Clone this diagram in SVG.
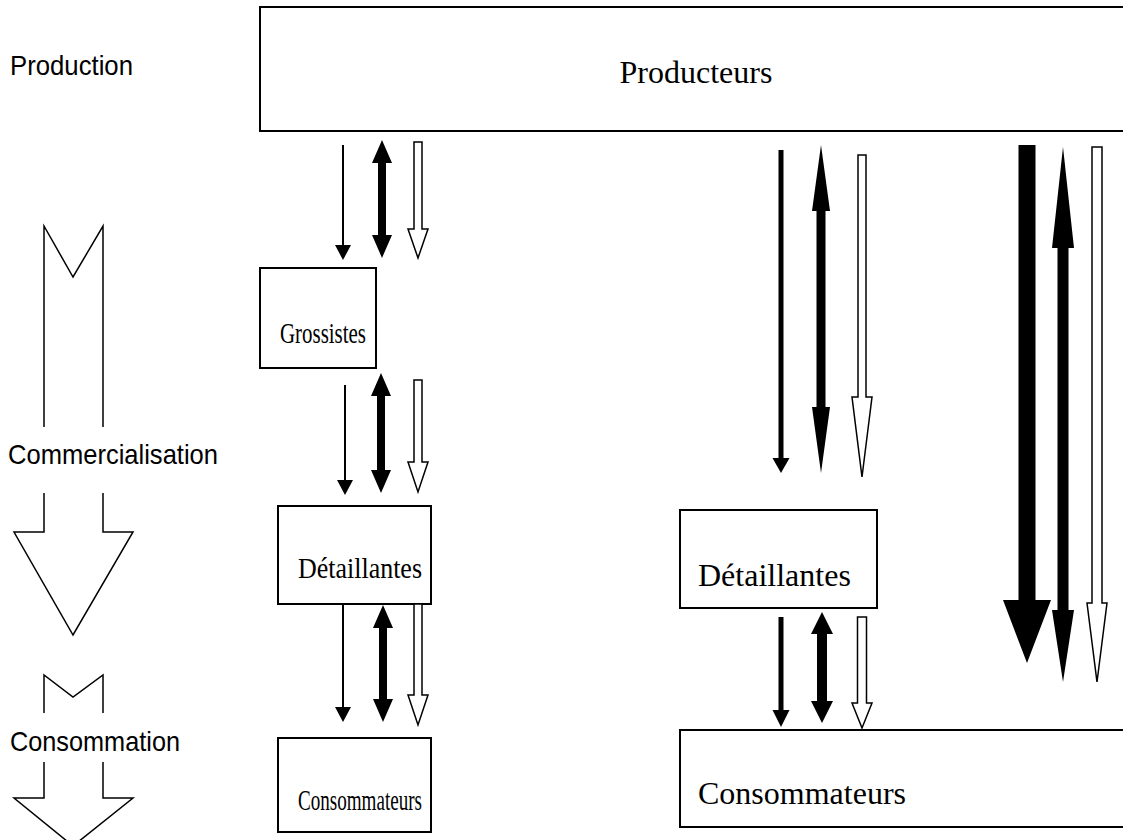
<svg xmlns="http://www.w3.org/2000/svg" width="1123" height="840" viewBox="0 0 1123 840">
<style>
.box{fill:#fff;stroke:#000;stroke-width:2}
.lbl{font-family:"Liberation Serif","Times New Roman",serif;font-size:32px;fill:#000}
.lbs{font-family:"Liberation Serif","Times New Roman",serif;font-size:29px;fill:#000}
.side{font-family:"Liberation Sans",Arial,sans-serif;font-size:28px;fill:#000}
.blk{fill:none;stroke:#000;stroke-width:1.5}
.fill{fill:#000;stroke:none}
.hol{fill:#fff;stroke:#000;stroke-width:1.5;stroke-linejoin:miter}
</style>
<rect width="1123" height="840" fill="#fff"/>
<g id="side-labels">
<text class="side" x="10" y="75" textLength="123" lengthAdjust="spacingAndGlyphs">Production</text>
<text class="side" x="8" y="464" textLength="210" lengthAdjust="spacingAndGlyphs">Commercialisation</text>
<text class="side" x="10" y="751" textLength="170" lengthAdjust="spacingAndGlyphs">Consommation</text>
</g>
<g id="flow-arrows">
<path class="blk" d="M44,427 L44,226 L73,277 L103,226 L103,427"/>
<path class="blk" d="M44,493 L44,532 L14,532 L73,635 L133,532 L103,532 L103,493"/>
<path class="blk" d="M44,713 L44,675 L73,697 L103,675 L103,713"/>
<path class="blk" d="M44,762 L44,798 L14,798 L73,846 L133,798 L103,798 L103,762"/>
</g>
<g id="producteurs">
<rect class="box" x="260" y="7" width="880" height="124"/>
<text class="lbl" x="696" y="83" text-anchor="middle">Producteurs</text>
</g>
<g id="grossistes">
<rect class="box" x="260" y="268" width="116" height="100"/>
<text class="lbs" x="280" y="343" textLength="86" lengthAdjust="spacingAndGlyphs">Grossistes</text>
</g>
<g id="detaillantes-1">
<rect class="box" x="278" y="506" width="153" height="98"/>
<text class="lbs" x="298" y="578" textLength="124" lengthAdjust="spacingAndGlyphs">Détaillantes</text>
</g>
<g id="consommateurs-1">
<rect class="box" x="278" y="738" width="153" height="94"/>
<text class="lbs" x="298" y="810" textLength="124" lengthAdjust="spacingAndGlyphs">Consommateurs</text>
</g>
<g id="detaillantes-2">
<rect class="box" x="680" y="510" width="197" height="98"/>
<text class="lbl" x="698" y="586">Détaillantes</text>
</g>
<g id="consommateurs-2">
<rect class="box" x="680" y="730" width="460" height="97"/>
<text class="lbl" x="698" y="804">Consommateurs</text>
</g>
<g id="connectors">
<rect class="fill" x="342" y="145" width="2" height="102"/>
<path class="fill" d="M335,245 L351,245 L343,260 Z"/>
<path class="fill" d="M382,140 L392,163 L386,163 L386,235 L392,235 L382,258 L372,235 L378,235 L378,163 L372,163 Z"/>
<path class="hol" d="M414,142 L422,142 L422,229 L428,229 L418,258 L408,229 L414,229 Z"/>
<rect class="fill" x="344" y="385" width="2" height="96"/>
<path class="fill" d="M337,480 L353,480 L345,495 Z"/>
<path class="fill" d="M381,373 L391,396 L385,396 L385,470 L391,470 L381,493 L371,470 L377,470 L377,396 L371,396 Z"/>
<path class="hol" d="M414,380 L422,380 L422,462 L428,462 L418,492 L408,462 L414,462 Z"/>
<rect class="fill" x="342" y="604" width="2" height="104"/>
<path class="fill" d="M335,707 L351,707 L343,722 Z"/>
<path class="fill" d="M383,605 L393,628 L387,628 L387,699 L393,699 L383,722 L373,699 L379,699 L379,628 L373,628 Z"/>
<path class="hol" d="M414,604 L422,604 L422,695 L428,695 L418,725 L408,695 L414,695 Z"/>
<rect class="fill" x="778.5" y="150" width="5" height="310"/>
<path class="fill" d="M772.5,458 L789.5,458 L781,473 Z"/>
<path class="fill" d="M821,145 L830,211 L825.5,211 L825.5,407 L830,407 L821,473 L812,407 L816.5,407 L816.5,211 L812,211 Z"/>
<path class="hol" d="M858,155 L866,155 L866,397 L872,397 L862,477 L852,397 L858,397 Z"/>
<rect class="fill" x="778.5" y="617" width="5" height="96"/>
<path class="fill" d="M772.5,710 L789.5,710 L781,727 Z"/>
<path class="fill" d="M822,612 L833,634 L827,634 L827,701 L833,701 L822,723 L811,701 L817,701 L817,634 L811,634 Z"/>
<path class="hol" d="M857.5,617 L866.5,617 L866.5,703 L872,703 L862,728 L852,703 L857.5,703 Z"/>
<path class="fill" d="M1018.5,145 L1035.5,145 L1035.5,600 L1051,600 L1027,663 L1003,600 L1018.5,600 Z"/>
<path class="fill" d="M1063,147 L1074,248 L1068.5,248 L1068.5,610 L1074,610 L1063,682 L1052,610 L1057.5,610 L1057.5,248 L1052,248 Z"/>
<path class="hol" d="M1092,147 L1102,147 L1102,603 L1107,603 L1097,682 L1087,603 L1092,603 Z"/>
</g>
</svg>
